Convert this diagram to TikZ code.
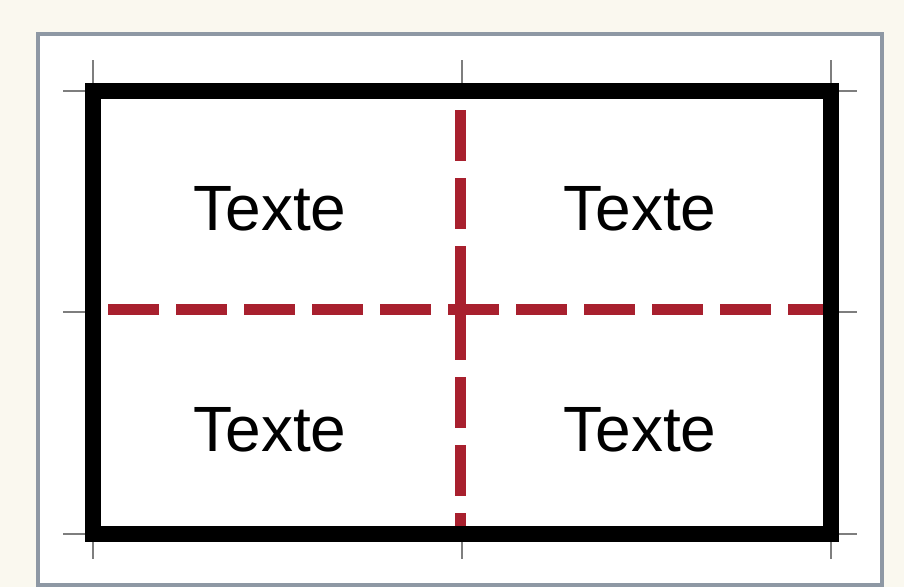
\documentclass[tikz,border=0pt]{standalone}
\usepackage{fontspec}
\setmainfont{Liberation Sans}
\definecolor{bgcream}{HTML}{FAF8EF}
\definecolor{framegray}{HTML}{8E98A4}
\definecolor{tickgray}{HTML}{7E7E7E}
\definecolor{dashred}{HTML}{A8202E}
\tikzset{
  frameline/.style={draw=framegray, line width=4pt, fill=white},
  tickline/.style={draw=tickgray, line width=2.5pt},
  boxline/.style={draw=black, line width=16pt},
  redsolid/.style={draw=dashred, line width=11pt},
  redline/.style={redsolid, dash pattern=on 51pt off 17pt},
  cell/.style={font=\fontsize{64}{72}\selectfont, text=black, inner sep=0pt},
}
\begin{document}
\begin{tikzpicture}[x=1pt,y=-1pt]
\useasboundingbox (0,0) rectangle (904,587);
\fill[bgcream] (0,0) rectangle (904,587);
\draw[frameline] (37.5,34) rectangle (882,585);
% ticks
\foreach \x in {93,462,831}{
  \draw[tickline] (\x,60) -- (\x,91);
  \draw[tickline] (\x,534) -- (\x,559);
}
\foreach \y in {91,312,534}{
  \draw[tickline] (63,\y) -- (93,\y);
  \draw[tickline] (831,\y) -- (857,\y);
}
% dashed red lines
\coordinate (h1) at (108,309);
\coordinate (h2) at (825,309);
\coordinate (v1) at (460,110);
\coordinate (vc) at (460,309);
\coordinate (vb) at (460,290);
\coordinate (v2) at (460,526);
\draw[redline] (h1) -- (h2);
\draw[redline] (v1) -- (vc);
\draw[redsolid] (vb) -- (vc);
\draw[redline] (vc) -- (v2);
% black box
\draw[boxline] (93,91) rectangle (831,534);
% texts
\node[cell] (tl) at (270,209) {Texte};
\node[cell] (tr) at (640,209) {Texte};
\node[cell] (bl) at (270,430) {Texte};
\node[cell] (br) at (640,430) {Texte};
\end{tikzpicture}
\end{document}
